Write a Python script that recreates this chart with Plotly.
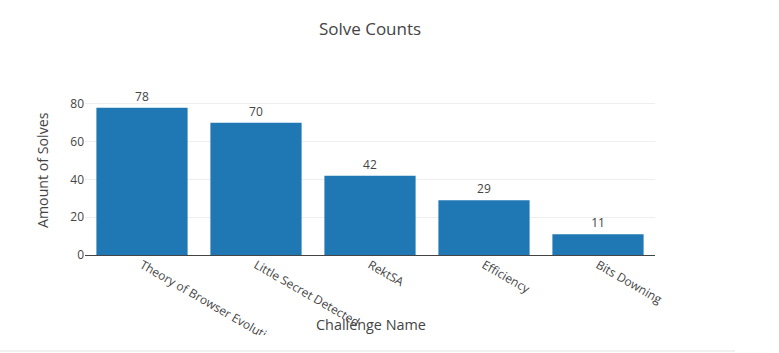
import plotly.graph_objects as go

challenges = ["Theory of Browser Evolution", "Little Secret Detected", "RektSA", "Efficiency", "Bits Downing"]
solves = [78, 70, 42, 29, 11]

W, H = 735, 353
L, R, T, B = 85, 80, 100, 98
pw, ph = W - L - R, H - T - B

def px_x(p):
    return (p - L) / pw

def px_y(p):
    return (H - B - p) / ph

fig = go.Figure(go.Bar(
    x=challenges, y=solves, text=solves, textposition="outside",
    marker_color="#1f77b4", textfont=dict(size=12, color="#444"),
    cliponaxis=False,
))

fig.update_layout(
    template="none",
    width=W, height=H,
    margin=dict(l=L, r=R, t=T, b=B, autoexpand=False),
    font=dict(family="Open Sans, verdana, arial, sans-serif", size=12, color="#444"),
    paper_bgcolor="white", plot_bgcolor="white",
    title=dict(text="Solve Counts", x=370 / W, xanchor="center", y=1 - 29 / H, yanchor="middle",
               font=dict(size=17, color="#444")),
    showlegend=False,
    bargap=0.2,
    xaxis=dict(tickangle=30, showgrid=False, automargin=False, ticks="", showline=False,
               zeroline=False),
    yaxis=dict(range=[0, 82.1], tickvals=[0, 20, 40, 60, 80], showgrid=True, gridcolor="#eee",
               zeroline=True, zerolinecolor="#444", zerolinewidth=1, ticks="", automargin=False,
               showline=False),
    annotations=[
        dict(text="Challenge Name", x=px_x(370.5), y=px_y(324), xref="paper", yref="paper",
             showarrow=False, font=dict(size=14.4, color="#444"), xanchor="center", yanchor="middle"),
        dict(text="Amount of Solves", x=px_x(42.5), y=px_y(170.5), xref="paper", yref="paper",
             showarrow=False, textangle=-90, font=dict(size=14.2, color="#444"),
             xanchor="center", yanchor="middle"),
    ],
    shapes=[
        dict(type="rect", xref="paper", yref="paper", x0=px_x(0), x1=px_x(W), y0=px_y(335), y1=px_y(H + 2),
             fillcolor="white", line=dict(width=0), layer="above"),
        dict(type="line", xref="paper", yref="paper", x0=px_x(0), x1=px_x(W), y0=px_y(351), y1=px_y(351),
             line=dict(color="#e3e3e3", width=1), layer="above"),
    ],
)

fig.write_html("out.html")
